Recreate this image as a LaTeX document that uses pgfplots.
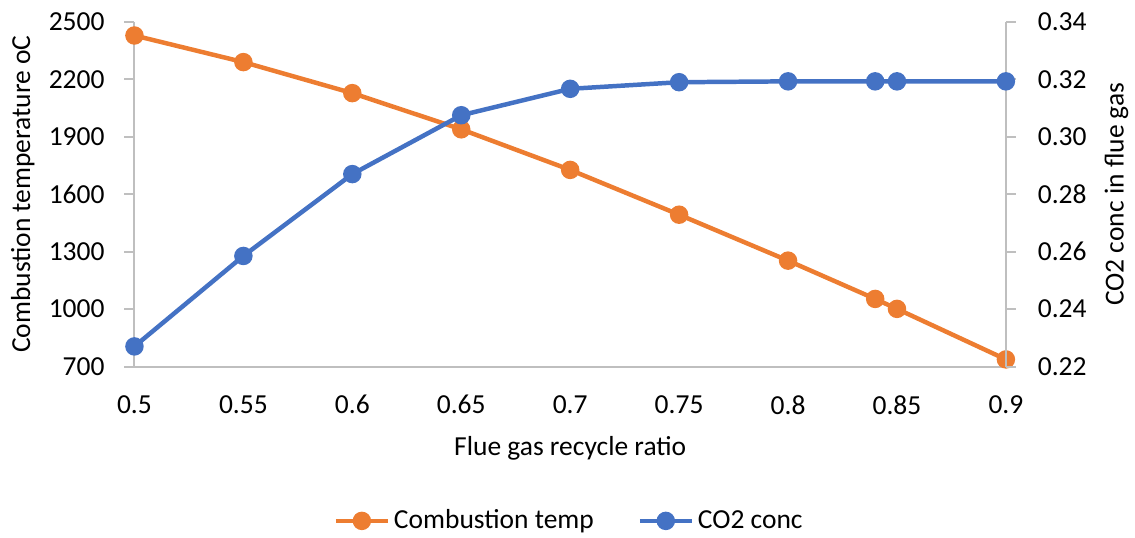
\documentclass[border=0pt]{standalone}
\usepackage{fontspec}
\setmainfont{Carlito}
\usepackage{pgfplots}
\pgfplotsset{compat=1.18}
\definecolor{corange}{HTML}{ED7D31}
\definecolor{cblue}{HTML}{4472C4}
\definecolor{cgrey}{HTML}{BFBFBF}
\newcommand{\cfont}{\fontsize{13.8bp}{16bp}\selectfont}
\pgfplotsset{
  common/.style={
    at={(67.5bp,86bp)}, anchor=south west,
    scale only axis, width=437.5bp, height=173bp,
    xmin=0.5, xmax=0.9,
    axis line style={cgrey, line width=1bp, -},
    tick align=outside,
    major tick length=5bp,
    tick style={cgrey, line width=1bp},
    every tick label/.append style={font=\cfont, text=black},
    label style={font=\cfont},
    /pgf/number format/assume math mode=true,
    /pgf/number format/1000 sep={},
  }
}
\begin{document}
\begin{tikzpicture}
\path (0,0) rectangle (567.5bp,270bp);
\begin{axis}[common,
  ymin=700, ymax=2500,
  axis x line*=bottom, axis y line*=left,
  xtick={0.5,0.55,0.6,0.65,0.7,0.75,0.8,0.85,0.9},
  xticklabels={0.5,0.55,0.6,0.65,0.7,0.75,0.8,0.85,0.9},
  x tick style={draw=none},
  xticklabel style={yshift=-6bp},
  yticklabel style={xshift=-6.5bp},
  ytick={700,1000,1300,1600,1900,2200,2500},
  xlabel={Flue gas recycle ratio},
  ylabel={Combustion temperature oC},
  xlabel style={at={(axis description cs:0.5,-0.237)}, anchor=center},
  ylabel style={at={(axis description cs:-0.128,0.5)}, anchor=center},
]
\addplot[corange, line width=2.25bp, mark=*, mark size=3.5bp] coordinates {
(0.5,2429) (0.55,2290) (0.6,2128) (0.65,1939) (0.7,1727) (0.75,1493)
(0.8,1253) (0.84,1053) (0.85,1001) (0.9,737)
};
\end{axis}
\begin{axis}[common,
  ymin=0.22, ymax=0.34,
  axis y line*=right, axis x line=none,
  ytick={0.22,0.24,0.26,0.28,0.30,0.32,0.34},
  yticklabel style={xshift=7.5bp, /pgf/number format/fixed, /pgf/number format/precision=2, /pgf/number format/fixed zerofill},
  ylabel={CO2 conc in flue gas},
  ylabel style={at={(axis description cs:1.127,0.5)}, anchor=center, rotate=0},
  legend style={at={(axis description cs:0.5,-0.448)}, anchor=center, draw=none, fill=none,
    legend columns=2, font=\cfont, /tikz/every even column/.append style={column sep=20bp},
    inner sep=0pt},
  legend image code/.code={\draw[mark repeat=2,mark phase=2,#1] plot coordinates {(0bp,0bp) (13bp,0bp) (26bp,0bp)};},
]
\addlegendimage{corange, line width=2.25bp, mark=*, mark size=3.5bp}
\addlegendentry{Combustion temp}
\addplot[cblue, line width=2.25bp, mark=*, mark size=3.5bp] coordinates {
(0.5,0.2270) (0.55,0.2585) (0.6,0.2870) (0.65,0.3075) (0.7,0.3167) (0.75,0.3190)
(0.8,0.3193) (0.84,0.3193) (0.85,0.3193) (0.9,0.3193)
};
\addlegendentry{CO2 conc}
\end{axis}
\end{tikzpicture}
\end{document}
